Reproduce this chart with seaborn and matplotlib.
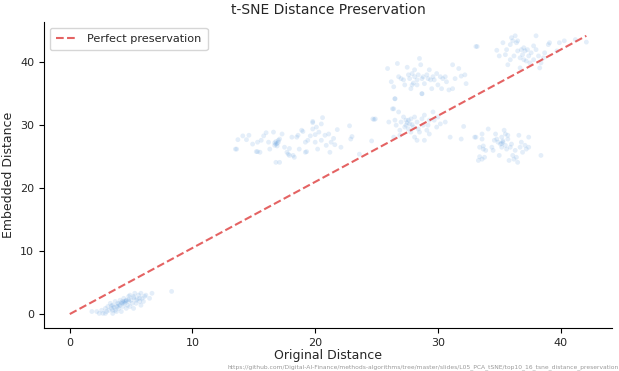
import numpy as np
import pandas as pd
import seaborn as sns
import matplotlib.pyplot as plt

# Pairwise distances, grouped by visible cluster
# within-cluster pairs
orig_intra = [1.8, 2.2, 2.6, 2.7, 2.9, 3.0, 3.1, 3.2, 3.3, 3.4, 3.5, 3.5, 3.7, 3.7, 3.8, 3.9,
              4.0, 4.1, 4.1, 4.2, 4.3, 4.3, 4.4, 4.5, 4.6, 4.6, 4.7, 4.8, 4.8, 4.9, 4.9, 5.0,
              5.1, 5.2, 5.2, 5.3, 5.4, 5.4, 5.6, 5.7, 5.7, 5.8, 5.8, 5.9, 6.0, 6.1, 6.2, 6.5,
              6.7, 8.3, 2.4, 3.5, 3.9, 4.3, 3.8, 2.9, 4.2, 4.4, 4.5, 4.0, 4.6, 3.6, 3.4, 4.8,
              5.2, 5.5]
emb_intra = [0.4, 0.4, 0.6, 0.1, 0.9, 0.4, 1.2, 0.6, 1.7, 0.9, 0.1, 1.4, 0.6, 2.0, 1.2, 1.7,
             0.9, 2.2, 1.4, 0.4, 2.0, 1.2, 2.5, 1.7, 0.9, 2.2, 1.4, 2.8, 2.0, 1.2, 3.0, 2.2,
             1.7, 2.8, 0.9, 3.3, 2.2, 1.7, 3.0, 2.5, 2.0, 1.4, 3.3, 2.5, 2.0, 2.8, 3.0, 2.5,
             3.3, 3.6, 0.1, 0.6, 1.2, 1.7, 0.4, 0.1, 1.8, 1.9, 2.0, 1.6, 2.1, 1.1, 1.3, 2.3,
             2.6, 2.4]

# between-cluster pairs
orig_a = [13.7, 13.6, 14.4, 14.6, 14.9, 15.2, 15.3, 15.5, 15.6, 15.8, 16.0, 16.2, 16.3, 16.6,
          16.7, 16.8, 17.0, 16.9, 17.1, 17.3, 17.5, 17.7, 17.8, 17.9, 18.1, 18.2, 18.3, 18.5,
          18.6, 18.7, 18.9, 19.0, 19.2, 19.3, 19.4, 19.6, 19.8, 19.8, 20.0, 20.0, 20.2, 20.3,
          20.5, 20.5, 20.6, 20.8, 20.9, 21.1, 21.2, 21.3, 21.5, 21.6, 21.8, 22.1, 22.9, 16.8,
          17.1, 19.8, 20.1, 19.2, 17.9, 15.3, 16.8, 16.9, 17.0, 16.7, 13.5, 14.1, 22.8, 23.0,
          24.6, 23.6, 24.8]
emb_a = [27.7, 26.2, 27.7, 28.4, 27.0, 25.8, 25.8, 25.7, 27.6, 28.3, 28.8, 27.3, 26.2, 28.9,
         26.8, 27.0, 27.3, 26.7, 27.8, 28.6, 26.5, 25.7, 25.4, 26.3, 28.1, 25.2, 24.9, 28.1,
         28.4, 26.2, 29.2, 29.0, 27.3, 25.8, 27.6, 28.3, 29.4, 30.4, 28.5, 27.3, 26.2, 28.9,
         30.2, 27.6, 31.2, 28.4, 26.8, 28.6, 25.7, 27.3, 27.9, 26.9, 29.3, 26.5, 27.8, 24.1,
         24.1, 30.6, 29.7, 25.7, 25.2, 27.3, 27.4, 27.1, 27.6, 27.2, 26.2, 28.3, 29.9, 28.2,
         27.5, 25.4, 30.9]

orig_b = [24.9, 26.0, 26.4, 26.5, 26.5, 26.6, 26.8, 26.9, 27.0, 27.2, 27.3, 27.4, 27.4, 27.6,
          27.7, 27.8, 27.8, 28.0, 28.1, 28.1, 28.3, 28.3, 28.4, 28.5, 28.7, 28.8, 28.9, 28.9,
          29.1, 29.2, 29.3, 29.3, 29.6, 29.7, 29.9, 30.0, 30.2, 30.6, 31.0, 31.9, 32.1, 28.7,
          26.9, 26.4, 27.6, 26.3, 24.7, 27.5, 27.9]
emb_b = [31.0, 30.5, 32.6, 34.2, 30.8, 30.0, 32.1, 29.2, 30.5, 31.3, 29.7, 30.8, 30.0, 29.4,
         30.2, 28.9, 31.0, 29.7, 28.1, 31.3, 30.5, 27.6, 29.4, 28.9, 31.0, 30.0, 27.6, 31.6,
         29.2, 30.0, 30.8, 28.6, 32.1, 30.8, 29.7, 31.3, 30.2, 30.5, 28.1, 27.8, 29.8, 35.0,
         28.4, 28.1, 30.8, 32.6, 31.0, 30.4, 30.1]

orig_c = [25.9, 26.2, 26.4, 26.5, 26.7, 26.8, 27.0, 27.3, 27.5, 27.6, 27.7, 27.8, 27.9, 28.0,
          28.1, 28.1, 28.3, 28.3, 28.4, 28.5, 28.6, 28.7, 28.7, 28.8, 28.9, 29.1, 29.2, 29.3,
          29.4, 29.5, 29.6, 29.7, 29.9, 30.0, 30.2, 30.3, 30.4, 30.6, 30.7, 30.9, 31.2, 31.2,
          31.4, 31.7, 31.9, 32.2, 32.3, 33.1, 27.9, 27.2]
emb_c = [39.0, 36.9, 36.1, 34.2, 39.8, 37.7, 37.4, 36.4, 39.2, 38.0, 37.4, 35.8, 38.2, 36.7,
         38.8, 37.7, 37.2, 36.4, 38.0, 40.6, 39.6, 37.4, 35.0, 37.7, 36.6, 38.0, 37.4, 38.8,
         37.2, 35.8, 37.7, 37.2, 38.2, 36.4, 37.7, 35.8, 37.4, 37.7, 36.9, 35.6, 35.8, 39.6,
         37.4, 39.0, 37.8, 38.0, 36.6, 42.5, 36.4, 37.2]

orig_d = [33.1, 33.4, 33.6, 33.7, 33.9, 33.4, 33.6, 33.8, 34.1, 34.4, 34.6, 34.7, 34.8, 34.9,
          35.0, 35.1, 35.2, 35.3, 35.4, 35.5, 35.5, 35.6, 35.7, 35.7, 35.8, 35.9, 36.0, 36.1,
          36.3, 36.4, 36.5, 36.6, 36.7, 36.8, 36.9, 37.1, 37.2, 37.4, 38.4, 33.3, 34.5, 35.2,
          36.2, 37.4, 33.0, 33.6, 33.7, 35.3, 35.2]
emb_d = [28.1, 26.5, 27.8, 26.2, 26.0, 25.0, 24.6, 24.9, 29.4, 26.5, 27.6, 28.6, 27.8, 27.3,
         25.2, 27.0, 28.1, 27.3, 29.2, 28.6, 26.8, 26.2, 28.4, 27.8, 24.4, 26.5, 27.0, 25.2,
         26.0, 24.9, 24.1, 28.4, 26.5, 27.3, 25.7, 26.8, 26.2, 28.1, 25.2, 24.4, 26.0, 26.5,
         24.6, 26.5, 28.1, 28.6, 26.7, 27.5, 27.1]

orig_e = [34.8, 35.0, 35.3, 35.6, 35.7, 35.9, 36.0, 36.1, 36.2, 36.3, 36.4, 36.5, 36.5, 36.7,
          36.8, 36.9, 37.0, 37.0, 37.1, 37.2, 37.3, 37.4, 37.5, 37.6, 37.8, 37.8, 38.0, 38.0,
          38.2, 38.3, 38.4, 38.6, 38.7, 39.0, 39.1, 39.7, 39.9, 40.3, 41.2, 42.1, 36.7, 35.9,
          35.5, 33.2]
emb_e = [41.9, 41.0, 43.1, 42.0, 39.6, 42.8, 43.9, 43.4, 41.0, 44.2, 43.1, 41.8, 43.4, 40.7,
         42.0, 41.2, 42.3, 40.4, 41.8, 40.2, 42.0, 41.0, 39.9, 41.5, 42.6, 40.4, 44.2, 42.0,
         41.0, 39.1, 39.9, 40.7, 41.5, 42.8, 43.1, 41.8, 43.1, 43.4, 43.6, 43.2, 39.1, 40.4,
         41.2, 42.5]

df = pd.DataFrame({
    'original': orig_intra + orig_a + orig_b + orig_c + orig_d + orig_e,
    'embedded': emb_intra + emb_a + emb_b + emb_c + emb_d + emb_e,
})

sns.set_style('ticks')
plt.rcParams['font.family'] = ['DejaVu Sans']

fig, ax = plt.subplots(figsize=(6.19, 3.71), dpi=100)
fig.subplots_adjust(left=0.071, right=0.989, top=0.941, bottom=0.116)

sns.scatterplot(data=df, x='original', y='embedded', s=12, alpha=0.15,
                color='#4A90D9', edgecolor='none', ax=ax)

# Reference line from origin to the largest distances
ax.plot([0, df['original'].max()], [0, df['embedded'].max()], '--',
        color='#E04848', alpha=0.85, lw=1.5, label='Perfect preservation')

ax.set_title('t-SNE Distance Preservation', fontsize=10)
ax.set_xlabel('Original Distance', fontsize=9, labelpad=1)
ax.set_ylabel('Embedded Distance', fontsize=9)
ax.tick_params(labelsize=8, length=3.5, color='black')
for sp in ax.spines.values():
    sp.set_color('black')
ax.legend(loc='upper left', fontsize=8.1, borderpad=0.55)
sns.despine(ax=ax)

fig.text(0.999, 0.004,
         'https://github.com/Digital-AI-Finance/methods-algorithms/tree/master/slides/'
         'L05_PCA_tSNE/top10_16_tsne_distance_preservation',
         fontsize=4.3, color='#999999', ha='right', va='bottom')

fig.savefig('out.png', dpi=100)
